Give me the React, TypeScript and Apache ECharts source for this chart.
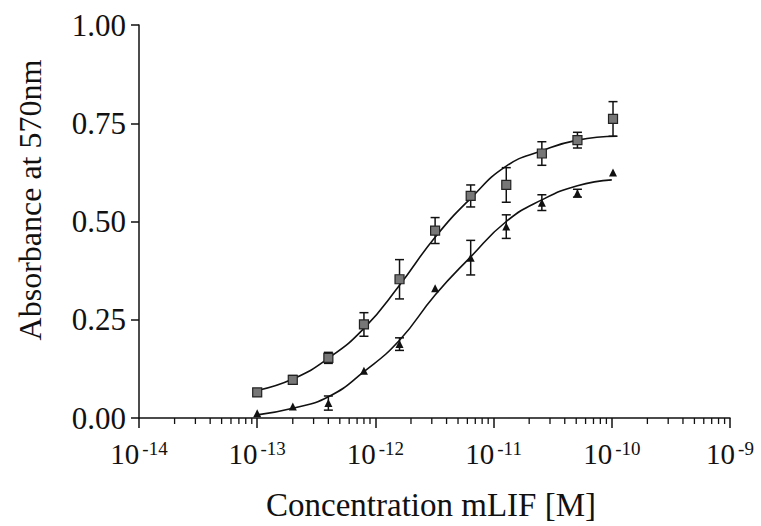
import React, { useEffect, useRef } from "react";
import * as echarts from "echarts";

// Two-fold dilution series of mLIF (M)
const concentrations = [1e-13, 2e-13, 4e-13, 8e-13, 1.6e-12, 3.2e-12, 6.4e-12, 1.28e-11, 2.56e-11, 5.12e-11, 1.024e-10];

// Squares
const squareMeans = [0.065, 0.097, 0.153, 0.238, 0.353, 0.477, 0.565, 0.593, 0.673, 0.707, 0.761];
const squareErrors = [0.009, 0.011, 0.014, 0.03, 0.05, 0.033, 0.028, 0.044, 0.03, 0.02, 0.044];

// Triangles
const triangleMeans = [0.012, 0.029, 0.038, 0.12, 0.188, 0.33, 0.408, 0.487, 0.548, 0.572, 0.625];
const triangleErrors = [0, 0, 0.018, 0, 0.016, 0, 0.044, 0.03, 0.02, 0.01, 0];

// Fitted curves
const squareFitX = [1e-13, 2e-13, 4e-13, 8e-13, 1.6e-12, 3.2e-12, 6.4e-12, 1.28e-11, 2.56e-11, 5.12e-11, 1.1e-10];
const squareFitY = [0.07, 0.099, 0.152, 0.228, 0.338, 0.46, 0.559, 0.641, 0.68, 0.707, 0.717];
const triangleFitX = [1e-13, 2e-13, 4e-13, 8e-13, 1.6e-12, 3.2e-12, 6.4e-12, 1.28e-11, 2.56e-11, 5.12e-11, 1.0e-10];
const triangleFitY = [0.008, 0.025, 0.054, 0.118, 0.198, 0.313, 0.41, 0.5, 0.555, 0.591, 0.606];

// Axes
const xMin = 1e-14;
const xMax = 1e-9;
const yTicks = [0, 0.25, 0.5, 0.75, 1.0];
const decadeExponents = [-14, -13, -12, -11, -10];
const minorMultipliers = [2, 3, 4, 5, 6, 7, 8, 9];

const xTitle = "Concentration mLIF [M]";
const yTitle = "Absorbance at 570nm";

const FONT = "Liberation Serif";
const INK = "#111";

export default function App() {
  const ref = useRef<HTMLDivElement>(null);

  useEffect(() => {
    if (!ref.current) return;
    const chart = echarts.init(ref.current, undefined, { renderer: "svg" });

    const minorTicks: number[][] = [];
    decadeExponents.forEach((e) =>
      minorMultipliers.forEach((m) => minorTicks.push([m * Math.pow(10, e), 0]))
    );

    const errorData = (means: number[], errs: number[]) =>
      concentrations
        .map((c, i) => [c, means[i] - errs[i], means[i] + errs[i]])
        .filter((_, i) => errs[i] > 0);

    const errorRender = (params: any, api: any) => {
      const x = api.value(0);
      const top = api.coord([x, api.value(2)]);
      const bot = api.coord([x, api.value(1)]);
      const w = 4.5;
      const style = { stroke: INK, lineWidth: 1.5 };
      return {
        type: "group",
        children: [
          { type: "line", shape: { x1: top[0], y1: top[1], x2: bot[0], y2: bot[1] }, style },
          { type: "line", shape: { x1: top[0] - w, y1: top[1], x2: top[0] + w, y2: top[1] }, style },
          { type: "line", shape: { x1: bot[0] - w, y1: bot[1], x2: bot[0] + w, y2: bot[1] }, style },
        ],
      };
    };

    const option: any = {
      animation: false,
      backgroundColor: "#fff",
      textStyle: { fontFamily: FONT },
      grid: { left: 139, right: 31, top: 25, bottom: 108, containLabel: false },
      xAxis: {
        type: "log",
        logBase: 10,
        min: xMin,
        max: xMax,
        splitNumber: 5,
        axisLine: { lineStyle: { color: INK, width: 1.5 } },
        axisTick: { show: true, length: 10, lineStyle: { color: INK, width: 1.5 } },
        splitLine: { show: false },
        axisLabel: {
          margin: 21,
          color: INK,
          fontFamily: FONT,
          showMinLabel: true,
          showMaxLabel: true,
          formatter: (v: number) => `{b|10}{s|${Math.round(Math.log10(v))}}`,
          rich: {
            b: { fontSize: 29, fontFamily: FONT, color: INK, lineHeight: 30 },
            s: { fontSize: 19, fontFamily: FONT, color: INK, lineHeight: 19, verticalAlign: "top", padding: [0, 0, 0, 3] },
          },
        },
      },
      yAxis: {
        type: "value",
        min: yTicks[0],
        max: yTicks[yTicks.length - 1],
        interval: 0.25,
        axisLine: { show: true, lineStyle: { color: INK, width: 1.5 } },
        axisTick: { show: true, length: 8, lineStyle: { color: INK, width: 1.5 } },
        splitLine: { show: false },
        axisLabel: {
          margin: 13,
          color: INK,
          fontSize: 31,
          fontFamily: FONT,
          formatter: (v: number) => v.toFixed(2),
        },
      },
      graphic: [
        {
          type: "text",
          x: 431,
          y: 505,
          style: { text: xTitle, fontSize: 33, fontFamily: FONT, fill: INK, textAlign: "center", textVerticalAlign: "middle" },
        },
        {
          type: "text",
          x: 30,
          y: 200,
          rotation: Math.PI / 2,
          style: { text: yTitle, fontSize: 32, fontFamily: FONT, fill: INK, textAlign: "center", textVerticalAlign: "middle" },
        },
      ],
      series: [
        {
          type: "custom",
          name: "minor ticks",
          clip: false,
          silent: true,
          data: minorTicks,
          encode: { x: 0, y: 1 },
          renderItem: (params: any, api: any) => {
            const p = api.coord([api.value(0), 0]);
            return {
              type: "line",
              shape: { x1: p[0], y1: p[1], x2: p[0], y2: p[1] + 6 },
              style: { stroke: INK, lineWidth: 1.3 },
            };
          },
          z: 1,
        },
        {
          type: "line",
          name: "square fit",
          data: squareFitX.map((x, i) => [x, squareFitY[i]]),
          showSymbol: false,
          smooth: 0.5,
          lineStyle: { color: INK, width: 1.6 },
          z: 2,
        },
        {
          type: "line",
          name: "triangle fit",
          data: triangleFitX.map((x, i) => [x, triangleFitY[i]]),
          showSymbol: false,
          smooth: 0.5,
          lineStyle: { color: INK, width: 1.6 },
          z: 2,
        },
        {
          type: "custom",
          name: "square error",
          data: errorData(squareMeans, squareErrors),
          encode: { x: 0, y: [1, 2] },
          renderItem: errorRender,
          z: 3,
        },
        {
          type: "custom",
          name: "triangle error",
          data: errorData(triangleMeans, triangleErrors),
          encode: { x: 0, y: [1, 2] },
          renderItem: errorRender,
          z: 3,
        },
        {
          type: "scatter",
          name: "squares",
          data: concentrations.map((c, i) => [c, squareMeans[i]]),
          symbol: "rect",
          symbolSize: 9,
          itemStyle: { color: "#777", borderColor: "#222", borderWidth: 1.2, opacity: 1 },
          z: 4,
        },
        {
          type: "scatter",
          name: "triangles",
          data: concentrations.map((c, i) => [c, triangleMeans[i]]),
          symbol: "triangle",
          symbolSize: 8,
          itemStyle: { color: INK, opacity: 1 },
          z: 4,
        },
      ],
    };

    chart.setOption(option);
    return () => chart.dispose();
  }, []);

  return (
    <div
      ref={ref}
      style={{ position: "fixed", left: 0, top: 0, width: 761, height: 526, background: "#fff" }}
    />
  );
}
